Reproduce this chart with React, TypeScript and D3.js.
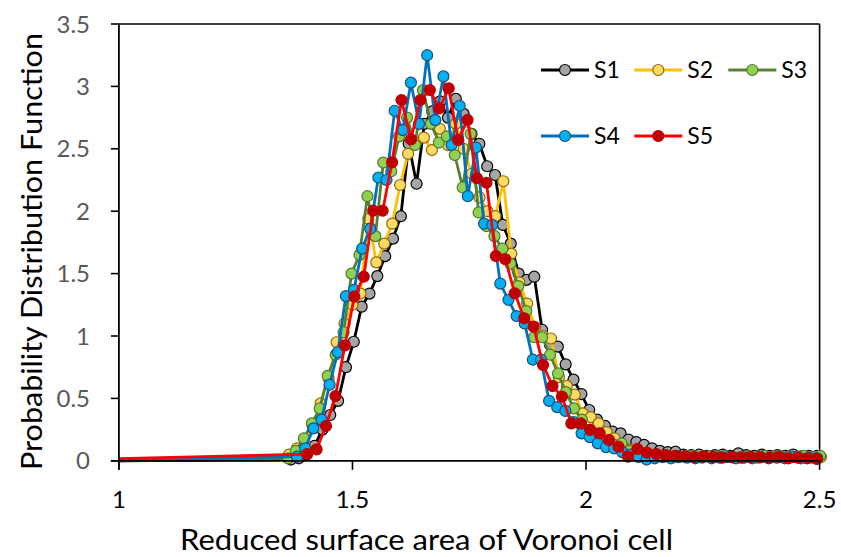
import React from 'react'
import * as d3 from 'd3'

// histogram bins: first bin centre and bin width for each series
const S1_START = 1.3684, S1_WIDTH = 0.0168
const S2_START = 1.364, S2_WIDTH = 0.017
const S3_START = 1.362, S3_WIDTH = 0.017
const S4_START = 1.3815, S4_WIDTH = 0.0174
const S5_START = 1.403, S5_WIDTH = 0.0202

// every series also has a point at the left end of the axis
const LEAD_X = 1
const LEAD_Y = [0.0, 0.0, 0.0, 0.004, 0.017]

const S1 = [0.01, 0.02, 0.05, 0.12, 0.25,
  0.367, 0.48, 0.75, 0.954, 1.235, 1.34,
  1.48, 1.64, 1.78, 1.96, 2.54, 2.22, 2.7, 2.8,
  2.88, 2.75, 2.9, 2.78, 2.62,
  2.54, 2.36, 2.29, 1.89, 1.74, 1.5, 1.45, 1.475,
  1.05, 0.93, 0.915, 0.773, 0.65, 0.535, 0.407, 0.33, 0.28, 0.233, 0.22, 0.17, 0.15, 0.127, 0.1, 0.08, 0.07, 0.073,
  0.05, 0.045, 0.05, 0.04, 0.045, 0.05, 0.04, 0.06, 0.045, 0.04, 0.05, 0.04, 0.045, 0.04, 0.05, 0.035, 0.04, 0.04]

const S2 = [0.05, 0.1, 0.12, 0.28, 0.46, 0.66,
  0.95, 1.1, 1.25, 1.34,
  1.94, 1.59, 1.74, 1.9, 2.21, 2.46, 2.55,
  2.59, 2.49, 2.66, 2.53, 2.7, 2.5, 2.3,
  2.11, 2.0, 1.96, 2.24, 1.66, 1.43, 1.26, 1.07,
  1.0, 0.98, 0.67, 0.6, 0.53, 0.38, 0.35, 0.3,
  0.23, 0.18, 0.12, 0.09, 0.08, 0.06,
  0.04, 0.03, 0.035, 0.03, 0.04, 0.03, 0.025, 0.03, 0.035, 0.03, 0.025, 0.03, 0.03, 0.025, 0.03, 0.035, 0.03, 0.025, 0.03, 0.03, 0.025, 0.03]

const S3 = [0.02, 0.08, 0.18, 0.3, 0.42, 0.68, 0.85, 1.03, 1.5,
  1.65, 2.12, 1.8, 2.39, 2.32, 2.6, 2.75, 2.53, 2.97,
  2.7, 2.55, 2.6, 2.45, 2.19, 2.62, 1.99, 1.88, 1.8, 1.7,
  1.58, 1.4, 1.2, 0.99, 0.99, 0.85, 0.7, 0.55, 0.42, 0.33,
  0.25, 0.2, 0.15, 0.13, 0.14, 0.08, 0.06, 0.05,
  0.03, 0.04, 0.03, 0.035, 0.03, 0.04, 0.03, 0.035, 0.03, 0.04, 0.03, 0.03, 0.035, 0.03, 0.04, 0.03, 0.035, 0.03, 0.03, 0.04, 0.03, 0.04]

const S4 = [0.033, 0.1, 0.26, 0.33, 0.61, 0.87, 1.32, 1.37, 1.7, 1.86, 2.27, 2.25,
  2.805, 2.65, 3.03, 2.7, 3.25, 2.73, 3.08, 2.53, 2.845, 2.12, 2.51, 1.9, 1.89,
  1.42, 1.29, 1.16, 1.1, 0.81, 0.81, 0.48, 0.43, 0.4, 0.31, 0.22, 0.19, 0.14, 0.11, 0.1, 0.07, 0.05, 0.03, 0.01,
  0.02, 0.03, 0.02, 0.03, 0.025, 0.02, 0.03, 0.02, 0.025, 0.03, 0.02, 0.025, 0.02, 0.03, 0.02, 0.025, 0.02, 0.03, 0.02, 0.025, 0.02]

const S5 = [0.054, 0.092, 0.279, 0.519, 0.925, 1.315, 1.475, 2.004, 2.004, 2.392,
  2.891, 2.576, 2.891, 2.971, 2.824, 2.985, 2.571, 2.731, 2.264, 2.228,
  1.641, 1.615, 1.342, 1.142, 1.075, 0.768, 0.599, 0.514, 0.3, 0.3,
  0.247, 0.22, 0.167, 0.113, 0.033, 0.095, 0.065, 0.054, 0.045, 0.04,
  0.035, 0.03, 0.035, 0.03, 0.025, 0.03, 0.025, 0.03, 0.028, 0.025, 0.03, 0.02, 0.025, 0.02, 0.015]

const SERIES_NAMES = ['S1', 'S2', 'S3', 'S4', 'S5']
const LINE_COLORS = ['#000000', '#ffc000', '#548235', '#0070c0', '#ff0000']
const MARKER_FILLS = ['#a5a5a5', '#ffd966', '#92d050', '#00b0f0', '#c00000']
const MARKER_STROKES = ['#000000', '#8c6a00', '#4e7a30', '#1f4e79', '#c00000']

const X_TICKS = [1, 1.5, 2, 2.5]
const Y_TICKS = [0, 0.5, 1, 1.5, 2, 2.5, 3, 3.5]

const FONT = 'Lato, "Open Sans", sans-serif'

export default function App() {
  const W = 841, H = 557
  const x = d3.scaleLinear().domain([1, 2.5]).range([118.9, 819.6])
  const y = d3.scaleLinear().domain([0, 3.5]).range([460.8, 24])

  const bins = [
    [S1_START, S1_WIDTH, S1],
    [S2_START, S2_WIDTH, S2],
    [S3_START, S3_WIDTH, S3],
    [S4_START, S4_WIDTH, S4],
    [S5_START, S5_WIDTH, S5],
  ] as [number, number, number[]][]

  const series = bins.map(([start, width, vals], s) => {
    const pts = vals.map((v, i) => [start + i * width, v] as [number, number])
    return { lead: [LEAD_X, LEAD_Y[s]] as [number, number], pts }
  })

  const line = d3.line<[number, number]>().x(d => x(d[0])).y(d => y(d[1]))

  const legendPos = [[565, 70], [658.3, 70], [752.3, 70], [565, 136], [658.3, 136]]

  const x0 = x(1), x1 = x(2.5), y0 = y(0), y1 = y(3.5)
  const R = 5.5

  return (
    <svg width={W} height={H} style={{ position: 'absolute', left: 0, top: 0, background: '#fff' }}>
      <rect x={0} y={0} width={W} height={H} fill="#fff" />

      {/* plot box */}
      <line x1={x0} x2={x1} y1={y1} y2={y1} stroke="#000" strokeWidth={1.6} />
      <line x1={x1} x2={x1} y1={y1} y2={y0} stroke="#000" strokeWidth={1.6} />

      {series.map((s, si) => (
        <g key={si}>
          <path d={line([s.lead, ...s.pts]) || ''} fill="none" stroke={LINE_COLORS[si]} strokeWidth={2.8} strokeLinejoin="round" />
          {s.pts.map((p, i) => (
            <circle key={i} cx={x(p[0])} cy={y(p[1])} r={R} fill={MARKER_FILLS[si]} stroke={MARKER_STROKES[si]} strokeWidth={1.2} />
          ))}
        </g>
      ))}

      {/* axes */}
      <line x1={x0} x2={x0} y1={y1} y2={y0 + 9} stroke="#000" strokeWidth={1.8} />
      <line x1={x0 - 8} x2={x1} y1={y0} y2={y0} stroke="#000" strokeWidth={1.8} />
      {Y_TICKS.map(t => (
        <g key={'y' + t}>
          <line x1={x0 - 8} x2={x0} y1={y(t)} y2={y(t)} stroke="#000" strokeWidth={1.6} />
          <text x={90} y={y(t)} dy="0.36em" textAnchor="end" fontFamily={FONT} fontSize={24} fill="#595959">{t}</text>
        </g>
      ))}
      {X_TICKS.map(t => (
        <g key={'x' + t}>
          <line x1={x(t)} x2={x(t)} y1={y0} y2={y0 + 9} stroke="#000" strokeWidth={1.6} />
          <text x={x(t)} y={508} textAnchor="middle" fontFamily={FONT} fontSize={24} fill="#000">{t}</text>
        </g>
      ))}

      <text x={426.5} y={550} textAnchor="middle" fontFamily={FONT} fontSize={28} fill="#000"
        textLength={493} lengthAdjust="spacingAndGlyphs">Reduced surface area of Voronoi cell</text>
      <text transform="translate(42,251.5) rotate(-90)" textAnchor="middle" fontFamily={FONT} fontSize={29} fill="#000"
        textLength={437} lengthAdjust="spacingAndGlyphs">Probability Distribution Function</text>

      {/* legend */}
      {SERIES_NAMES.map((n, i) => {
        const [cx, cy] = legendPos[i]
        return (
          <g key={n}>
            <line x1={cx - 24} x2={cx + 24} y1={cy} y2={cy} stroke={LINE_COLORS[i]} strokeWidth={2.8} />
            <circle cx={cx} cy={cy} r={R} fill={MARKER_FILLS[i]} stroke={MARKER_STROKES[i]} strokeWidth={1.2} />
            <text x={cx + 29} y={cy} dy="0.36em" fontFamily={FONT} fontSize={23} fill="#000">{n}</text>
          </g>
        )
      })}
    </svg>
  )
}
